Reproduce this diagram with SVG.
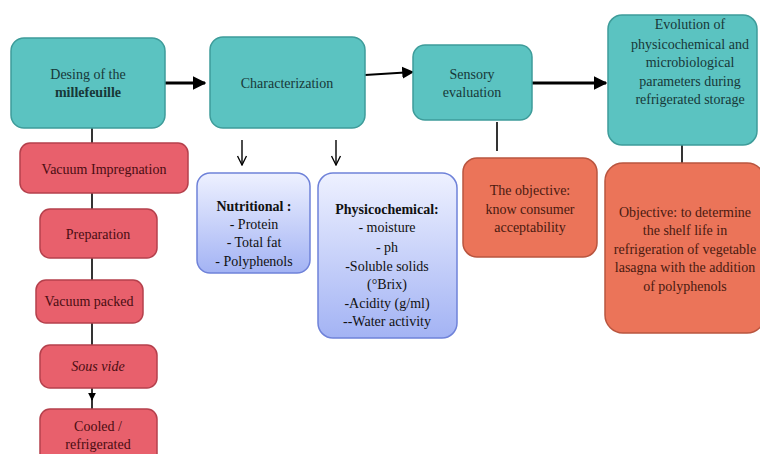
<svg xmlns="http://www.w3.org/2000/svg" width="760" height="454" viewBox="0 0 760 454">
<defs>
<linearGradient id="blueGrad" x1="0" y1="0" x2="0" y2="1">
<stop offset="0" stop-color="#eef1ff"/>
<stop offset="1" stop-color="#a3b3f4"/>
</linearGradient>
<marker id="arrowBig" viewBox="0 0 10 10" refX="9" refY="5" markerWidth="4.5" markerHeight="5" orient="auto" markerUnits="strokeWidth">
<path d="M0,0 L10,5 L0,10 z" fill="#000"/>
</marker>
<marker id="arrowMid" viewBox="0 0 10 10" refX="9" refY="5" markerWidth="6" markerHeight="7" orient="auto" markerUnits="strokeWidth">
<path d="M0,0 L10,5 L0,10 z" fill="#000"/>
</marker>
<marker id="arrowOpen" viewBox="0 0 10 10" refX="9" refY="5" markerWidth="8" markerHeight="8" orient="auto" markerUnits="strokeWidth">
<path d="M1,1 L9,5 L1,9" fill="none" stroke="#000" stroke-width="1.2"/>
</marker>
<marker id="arrowSmall" viewBox="0 0 10 10" refX="9" refY="5" markerWidth="5" markerHeight="5" orient="auto" markerUnits="strokeWidth">
<path d="M0,0 L10,5 L0,10 z" fill="#000"/>
</marker>
</defs>
<style>
.teal{fill:#5bc3c1;stroke:#3e9c9a;stroke-width:1.5}
.red{fill:#e8606c;stroke:#b5404c;stroke-width:1.5}
.orange{fill:#eb7459;stroke:#b9553f;stroke-width:1.5}
.blue{fill:url(#blueGrad);stroke:#6f82d9;stroke-width:1.5}
text{font-family:"Liberation Serif","Times New Roman",serif;font-size:14px;text-anchor:middle}
.tt{fill:#173838}
.rt{fill:#4a0d12}
.ot{fill:#4a1a10}
.bt{fill:#111}
.b{font-weight:bold}
.conn line,.conn path{stroke:#000;fill:none}
</style>
<g class="conn" id="connectors">
<line x1="165" y1="83" x2="205" y2="83" stroke-width="3" marker-end="url(#arrowBig)"/>
<line x1="365" y1="75" x2="413" y2="72" stroke-width="2" marker-end="url(#arrowMid)"/>
<line x1="532" y1="83" x2="606" y2="83" stroke-width="3" marker-end="url(#arrowBig)"/>
<line x1="497" y1="122" x2="497" y2="151" stroke-width="1.6"/>
<line x1="682" y1="145" x2="682" y2="163" stroke-width="1.6"/>
<line x1="242" y1="140" x2="242" y2="165" stroke-width="1.4" marker-end="url(#arrowOpen)"/>
<line x1="336" y1="140" x2="336" y2="165" stroke-width="1.4" marker-end="url(#arrowOpen)"/>
<line x1="92" y1="128" x2="92" y2="143" stroke-width="1.6"/>
<line x1="92" y1="193" x2="92" y2="209" stroke-width="1.6"/>
<line x1="92" y1="258" x2="92" y2="280" stroke-width="1.6"/>
<line x1="92" y1="323" x2="92" y2="345" stroke-width="1.6"/>
<line x1="92" y1="388" x2="92" y2="400" stroke-width="1.6" marker-end="url(#arrowSmall)"/>
<line x1="92" y1="398" x2="92" y2="410" stroke-width="1.6"/>
</g>
<g id="n-design">
<rect class="teal" x="11" y="38" width="154" height="90" rx="13"/>
<text class="tt" x="88" y="79">Desing of the</text>
<text class="tt b" x="88" y="97">millefeuille</text>
</g>
<g id="n-char">
<rect class="teal" x="210" y="37" width="155" height="91" rx="13"/>
<text class="tt" x="287" y="88">Characterization</text>
</g>
<g id="n-sensory">
<rect class="teal" x="413" y="45" width="119" height="75" rx="12"/>
<text class="tt" x="472" y="79">Sensory</text>
<text class="tt" x="472" y="97">evaluation</text>
</g>
<g id="n-evolution">
<rect class="teal" x="608" y="15" width="149" height="130" rx="14"/>
<text class="tt" x="690" y="29">Evolution of</text>
<text class="tt" x="690" y="49">physicochemical  and</text>
<text class="tt" x="690" y="67">microbiological</text>
<text class="tt" x="690" y="86">parameters during</text>
<text class="tt" x="690" y="104">refrigerated storage</text>
</g>
<g id="n-obj1">
<rect class="orange" x="463" y="158" width="134" height="99" rx="14"/>
<text class="ot" x="530" y="195">The objective:</text>
<text class="ot" x="530" y="214">know consumer</text>
<text class="ot" x="530" y="232">acceptability</text>
</g>
<g id="n-obj2">
<rect class="orange" x="605" y="163" width="160" height="170" rx="18"/>
<text class="ot" x="685" y="217">Objective: to determine</text>
<text class="ot" x="685" y="235">the shelf life in</text>
<text class="ot" x="685" y="254">refrigeration of vegetable</text>
<text class="ot" x="685" y="272">lasagna with the addition</text>
<text class="ot" x="685" y="291">of polyphenols</text>
</g>
<g id="n-nutritional">
<rect class="blue" x="197" y="173" width="113" height="100" rx="13"/>
<text class="bt b" x="254" y="211">Nutritional :</text>
<text class="bt" x="254" y="229">- Protein</text>
<text class="bt" x="254" y="247">- Total fat</text>
<text class="bt" x="254" y="266">- Polyphenols</text>
</g>
<g id="n-physico">
<rect class="blue" x="318" y="173" width="139" height="165" rx="15"/>
<text class="bt b" x="387" y="214">Physicochemical:</text>
<text class="bt" x="387" y="232">- moisture</text>
<text class="bt" x="387" y="252">- ph</text>
<text class="bt" x="387" y="271">-Soluble solids</text>
<text class="bt" x="387" y="289">(°Brix)</text>
<text class="bt" x="387" y="308">-Acidity (g/ml)</text>
<text class="bt" x="387" y="326">--Water activity</text>
</g>
<g id="n-vacimp">
<rect class="red" x="20" y="143" width="168" height="50" rx="10"/>
<text class="rt" x="104" y="174">Vacuum Impregnation</text>
</g>
<g id="n-prep">
<rect class="red" x="40" y="209" width="117" height="49" rx="10"/>
<text class="rt" x="98" y="239">Preparation</text>
</g>
<g id="n-vacpack">
<rect class="red" x="36" y="280" width="107" height="43" rx="10"/>
<text class="rt" x="89" y="306">Vacuum packed</text>
</g>
<g id="n-sousvide">
<rect class="red" x="40" y="345" width="117" height="43" rx="10"/>
<text class="rt" x="98" y="371" font-style="italic">Sous vide</text>
</g>
<g id="n-cooled">
<rect class="red" x="40" y="409" width="117" height="60" rx="10"/>
<text class="rt" x="98" y="431">Cooled  /</text>
<text class="rt" x="98" y="449">refrigerated</text>
</g>
</svg>
